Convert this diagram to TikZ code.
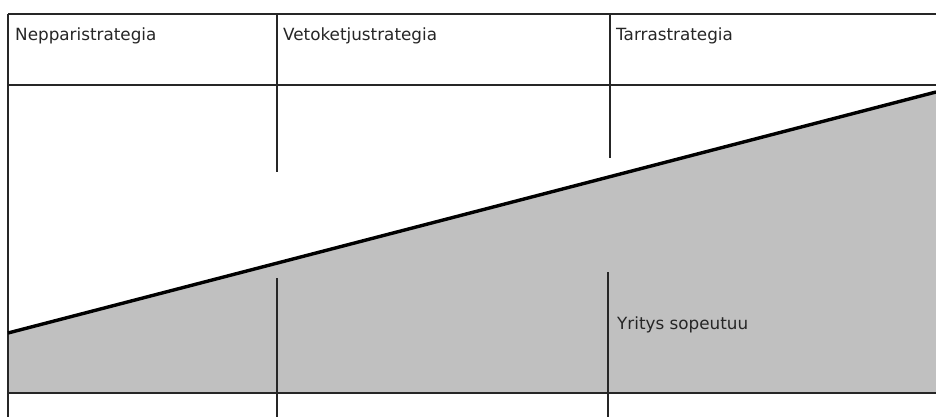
\documentclass[tikz,border=0pt]{standalone}
\usepackage{fontspec}
\setmainfont{DejaVu Sans}
\definecolor{areagray}{HTML}{C0C0C0}
\definecolor{rulegray}{HTML}{262626}
\tikzset{
  rule/.style={draw=rulegray, line width=1.3pt},
  trend/.style={draw=black, line width=3.4pt},
  label/.style={anchor=base west, inner sep=0pt, font=\fontsize{16.8}{20}\selectfont, text=black!85}
}
\begin{document}
\begin{tikzpicture}[x=1pt, y=-1pt]
  \useasboundingbox (0,0) rectangle (936,417);
  % shaded region below the trend line
  \coordinate (tl) at (8,333);
  \coordinate (tr) at (936,92);
  \fill[areagray] (tl) -- (tr) -- (936,393) -- (8,393) -- cycle;
  % table rules
  \draw[rule] (8,14) -- (936,14);
  \draw[rule] (7,85) -- (936,85);
  \draw[rule] (7,393) -- (936,393);
  \draw[rule] (8,14) -- (8,417);
  \draw[rule] (277,14) -- (277,172);
  \draw[rule] (277,278) -- (277,417);
  \draw[rule] (610,14) -- (610,158);
  \draw[rule] (608,272) -- (608,417);
  % trend line
  \draw[trend] (tl) -- (tr);
  % column headings
  \node[label] (nep) at (15,41) {Nepparistrategia};
  \node[label] (veto) at (283,41) {Vetoketjustrategia};
  \node[label] (tarra) at (616,41) {Tarrastrategia};
  \node[label] (sope) at (617,329) {Yritys sopeutuu};
\end{tikzpicture}
\end{document}
